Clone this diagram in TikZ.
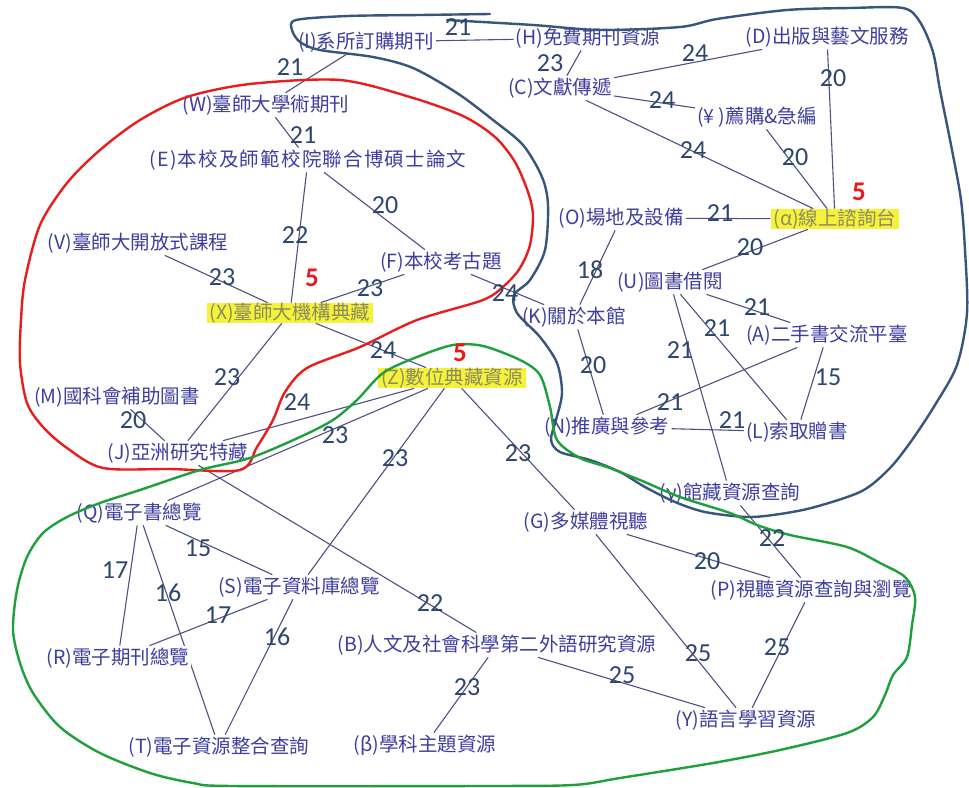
\documentclass[tikz,border=0pt]{standalone}
\usepackage{fontspec}
\newfontfamily\cjk{Noto Sans CJK TC}
\newfontfamily\cjkwide[LetterSpace=6]{Noto Sans CJK TC}
\newfontfamily\numfont{Carlito}
\definecolor{nodetxt}{RGB}{62,62,160}
\definecolor{edgecol}{RGB}{80,80,130}
\definecolor{labcol}{RGB}{45,70,110}
\definecolor{hltxt}{RGB}{140,140,95}
\definecolor{hlfill}{RGB}{246,242,60}
\definecolor{blobblue}{RGB}{55,85,125}
\definecolor{blobred}{RGB}{232,30,30}
\definecolor{blobgreen}{RGB}{30,160,60}
\definecolor{fivered}{RGB}{235,25,25}
\pgfdeclarelayer{bglayer}
\pgfdeclarelayer{edgelayer}
\pgfsetlayers{bglayer,edgelayer,main}
\begin{document}
\begin{tikzpicture}[x=1pt,y=-1pt,
  item/.style={font=\cjk\fontsize{19.5}{22}\selectfont, text=nodetxt, inner sep=2pt},
  hl/.style={item, fill=hlfill, text=hltxt, inner ysep=0pt, inner xsep=3pt},
  edge/.style={draw=edgecol, line width=1.1pt},
  lab/.style={font=\numfont\fontsize{26}{29}\selectfont, text=labcol, inner sep=0pt},
  five/.style={font=\numfont\bfseries\fontsize{27}{30}\selectfont, text=fivered, inner sep=0pt},
  blob/.style={line width=2.4pt, line join=round, line cap=round}]
\useasboundingbox (0,0) rectangle (969,787);
\begin{pgfonlayer}{bglayer}
  \fill[white] (0,0) rectangle (969,787);
\end{pgfonlayer}

% nodes
\node[item] (I) at (366,42) {(I)系所訂購期刊};
\node[item] (H) at (588,38) {(H)免費期刊資源};
\node[item] (D) at (827,37) {(D)出版與藝文服務};
\node[item] (C) at (560,88) {(C)文獻傳遞};
\node[item] (Yen) at (757,117) {(¥ )薦購\&急編};
\node[item] (W) at (266,105) {(W)臺師大學術期刊};
\node[item, font=\cjkwide\fontsize{19.5}{22}\selectfont] (E) at (308,160) {(E)本校及師範校院聯合博碩士論文};
\node[item] (V) at (138,243) {(V)臺師大開放式課程};
\node[item] (F) at (441,262) {(F)本校考古題};
\node[hl] (X) at (290,313) {(X)臺師大機構典藏};
\node[item] (O) at (621,218) {(O)場地及設備};
\node[hl] (alpha) at (835,219) {(α)線上諮詢台\hspace{12pt}};
\node[item] (U) at (670,282) {(U)圖書借閱};
\node[item] (K) at (574,317) {(K)關於本館};
\node[item] (A) at (827,335) {(A)二手書交流平臺};
\node[item] (M) at (117,397) {(M)國科會補助圖書};
\node[hl] (Z) at (452,378) {(Z)數位典藏資源};
\node[item] (J) at (178,453) {(J)亞洲研究特藏};
\node[item] (N) at (607,427) {(N)推廣與參考};
\node[item] (L) at (797,432) {(L)索取贈書};
\node[item] (gamma) at (730,493) {(γ)館藏資源查詢};
\node[item] (Q) at (139,513) {(Q)電子書總覽};
\node[item] (G) at (586,522) {(G)多媒體視聽};
\node[item] (S) at (299,587) {(S)電子資料庫總覽};
\node[item] (P) at (811,590) {(P)視聽資源查詢與瀏覽};
\node[item, fill=white] (R) at (118,658) {(R)電子期刊總覽};
\node[item] (B) at (497,645) {(B)人文及社會科學第二外語研究資源};
\node[item] (Y) at (746,720) {(Y)語言學習資源};
\node[item] (T) at (219,747) {(T)電子資源整合查詢};
\node[item] (beta) at (425,745) {(β)學科主題資源};

% edges
\begin{pgfonlayer}{edgelayer}
\draw[edge] (I) -- (H);
\draw[edge] (H) -- (C);
\draw[edge] (I) -- (W);
\draw[edge] (W) -- (E);
\draw[edge] (E) -- (F);
\draw[edge] (E) -- (X);
\draw[edge] (V) -- (X);
\draw[edge] (F) -- (X);
\draw[edge] (F) -- (K);
\draw[edge] (X) -- (J);
\draw[edge] (X) -- (Z);
\draw[edge] (M) -- (J);
\draw[edge] (Z) -- (J);
\draw[edge] (Z) -- (Q);
\draw[edge] (Z) -- (S);
\draw[edge] (Z) -- (G);
\draw[edge] (J) -- (B);
\draw[edge] (Q) -- (S);
\draw[edge] (Q) -- (R);
\draw[edge] (Q) -- (T);
\draw[edge] (R) -- (S);
\draw[edge] (S) -- (T);
\draw[edge] (B) -- (beta);
\draw[edge] (B) -- (Y);
\draw[edge] (G) -- (Y);
\draw[edge] (G) -- (P);
\draw[edge] (P) -- (Y);
\draw[edge] (gamma) -- (P);
\draw[edge] (U) -- (gamma);
\draw[edge] (U) -- (L);
\draw[edge] (U) -- (A);
\draw[edge] (N) -- (A);
\draw[edge] (N) -- (L);
\draw[edge] (A) -- (L);
\draw[edge] (K) -- (N);
\draw[edge] (O) -- (K);
\draw[edge] (O) -- (alpha);
\draw[edge] (U) -- (alpha);
\draw[edge] (C) -- (D);
\draw[edge] (C) -- (Yen);
\draw[edge] (C) -- (alpha);
\draw[edge] (Yen) -- (alpha);
\draw[edge] (D) -- (alpha);
\end{pgfonlayer}

% hand-drawn outlines
\draw[blob, draw=blobblue] plot[smooth, tension=0.5] coordinates {
 (490,14) (420,15) (348,16) (296,20) (292,30) (300,42) (320,50) (373,57) (413,68)
 (457,93) (493,120) (523,145) (542,177) (548,205) (545,250) (530,280) (514,295)
 (517,313) (540,337) (557,363) (562,393) (556,420) (551,440) (560,452) (590,460)
 (620,472) (645,487) (675,502) (705,512) (747,517) (780,514) (815,507) (862,491)
 (890,468) (912,440) (935,405) (957,365) (967,313) (965,250) (961,200) (952,150)
 (940,90) (933,52) (920,22) (903,8) (850,8) (787,10) (717,19) (680,27) (600,30)
 (533,25) (447,20)};
\draw[blob, draw=blobred] plot[smooth cycle, tension=0.5] coordinates {
 (240,470) (170,469) (103,468) (67,448) (43,427) (27,403) (20,363) (21,320) (25,280)
 (40,225) (67,183) (100,150) (140,120) (187,97) (250,84) (340,80) (410,97) (463,116)
 (495,137) (515,162) (528,192) (533,215) (530,245) (520,268) (505,285) (483,300)
 (417,320) (360,347) (307,368) (285,392) (273,420) (257,447)};
\draw[blob, draw=blobgreen] plot[smooth cycle, tension=0.5] coordinates {
 (13,630) (17,590) (27,557) (43,533) (67,517) (100,503) (140,490) (200,470) (250,458)
 (300,437) (333,420) (357,400) (383,373) (417,357) (453,345) (483,346) (520,360)
 (540,375) (550,407) (557,440) (580,458) (607,467) (640,480) (680,497) (730,513)
 (757,525) (790,535) (847,547) (880,563) (905,577) (915,597) (912,625) (907,657)
 (893,675) (885,695) (873,717) (847,733) (780,750) (713,763) (620,778) (573,785)
 (480,786) (233,786) (193,783) (150,773) (100,753) (60,727) (33,693) (20,663)};

% weight labels
\node[lab] (l1) at (458,27) {21};
\node[lab] (l2) at (550,63) {23};
\node[lab] (l3) at (290,67) {21};
\node[lab] (l4) at (303,135) {21};
\node[lab] (l5) at (385,205) {20};
\node[lab] (l6) at (295,235) {22};
\node[lab] (l7) at (222,277) {23};
\node[lab] (l8) at (370,288) {23};
\node[lab] (l9) at (505,293) {24};
\node[lab] (l10) at (227,377) {23};
\node[lab] (l11) at (383,350) {24};
\node[lab] (l12) at (133,420) {20};
\node[lab] (l13) at (297,402) {24};
\node[lab] (l14) at (335,435) {23};
\node[lab] (l15) at (395,458) {23};
\node[lab] (l16) at (518,453) {23};
\node[lab] (l17) at (430,603) {22};
\node[lab] (l18) at (198,548) {15};
\node[lab] (l19) at (115,570) {17};
\node[lab] (l20) at (168,593) {16};
\node[lab] (l21) at (218,615) {17};
\node[lab] (l22) at (277,637) {16};
\node[lab] (l23) at (467,687) {23};
\node[lab] (l24) at (622,675) {25};
\node[lab] (l25) at (698,653) {25};
\node[lab] (l26) at (707,561) {20};
\node[lab] (l27) at (777,647) {25};
\node[lab] (l28) at (772,538) {22};
\node[lab] (l29) at (680,350) {21};
\node[lab] (l30) at (717,328) {21};
\node[lab] (l31) at (757,307) {21};
\node[lab] (l32) at (670,402) {21};
\node[lab] (l33) at (732,420) {21};
\node[lab] (l34) at (828,377) {15};
\node[lab] (l35) at (593,365) {20};
\node[lab] (l36) at (590,270) {18};
\node[lab] (l37) at (720,213) {21};
\node[lab] (l38) at (750,247) {20};
\node[lab] (l39) at (695,53) {24};
\node[lab] (l40) at (662,100) {24};
\node[lab] (l41) at (693,150) {24};
\node[lab] (l42) at (795,157) {20};
\node[lab] (l43) at (833,78) {20};

% red fives
\node[five] (fX) at (312,278) {5};
\node[five] (fZ) at (460,353) {5};
\node[five] (fA) at (859,192) {5};
\end{tikzpicture}
\end{document}
